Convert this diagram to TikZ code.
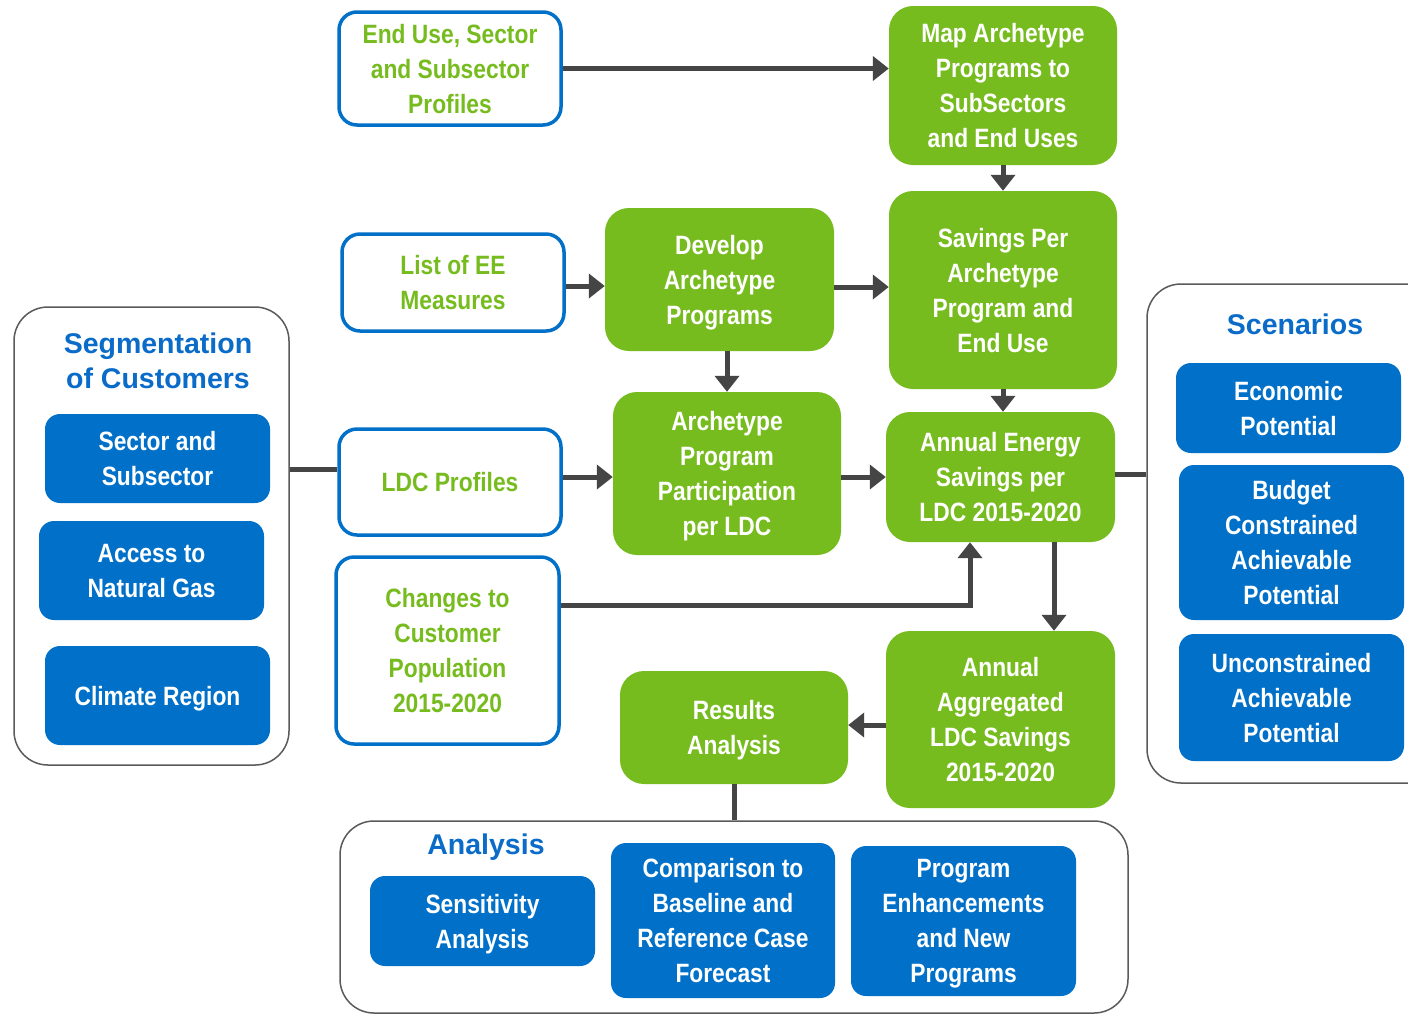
\documentclass[tikz,border=0pt]{standalone}
\usepackage{fontspec}
\setmainfont{Liberation Sans}
\newfontfamily\narrowf{Liberation Sans}[FakeStretch=0.86]
\usetikzlibrary{arrows.meta,calc}
\definecolor{grn}{RGB}{119,188,31}
\definecolor{blu}{RGB}{0,112,200}
\definecolor{hdr}{RGB}{10,107,200}
\definecolor{arr}{RGB}{69,69,69}
\definecolor{cont}{RGB}{90,90,90}
\tikzset{
  txt/.style={font=\narrowf\bfseries\fontsize{26.5}{35}\selectfont, align=center, inner sep=0pt, text depth=0pt},
  greenbox/.style={txt, fill=grn, text=white, rounded corners=24pt},
  bluebox/.style={txt, fill=blu, text=white, rounded corners=15pt},
  outbox/.style={txt, draw=blu, line width=3.5pt, fill=white, text=grn, rounded corners=18pt},
  container/.style={draw=cont, line width=1.5pt, rounded corners=34pt, inner sep=0pt},
  header/.style={font=\fontsize{28.5}{35}\selectfont\bfseries, text=hdr, align=center, inner sep=0pt},
  flow/.style={draw=arr, line width=5pt, -{Triangle[width=24pt,length=16pt]}},
  link/.style={draw=arr, line width=5pt},
  sz/.style 2 args={minimum width=#1pt, minimum height=#2pt}
}
\begin{document}
\begin{tikzpicture}[x=1pt,y=-1pt]
\useasboundingbox (0,0) rectangle (1408,1013);
\clip (0,0) rectangle (1408,1013);
\fill[white] (0,0) rectangle (1408,1013);

% containers
\node[container, sz={275}{458}] (seg) at (151.5,536) {};
\node[container, sz={300}{499}] (scen) at (1297,533.5) {};
\node[container, sz={788}{192}] (ana) at (734,917) {};

% headers
\node[header] (segh) at (158,361) {Segmentation\\of Customers};
\node[header] (scenh) at (1295,324) {Scenarios};
\node[header] (anah) at (486,847) {Analysis};

% segmentation boxes
\node[bluebox, sz={225}{89}] (sec) at (157.5,458.5) {Sector and\\Subsector};
\node[bluebox, sz={225}{99}] (gas) at (151.5,570.5) {Access to\\Natural Gas};
\node[bluebox, sz={225}{99}] (clim) at (157.5,695.5) {Climate Region};

% scenario boxes
\node[bluebox, sz={225}{90}] (econ) at (1288.5,408) {Economic\\Potential};
\node[bluebox, sz={225}{155}] (budg) at (1291.5,542.5) {Budget\\Constrained\\Achievable\\Potential};
\node[bluebox, sz={225}{127}] (unc) at (1291.5,697.5) {Unconstrained\\Achievable\\Potential};

% analysis boxes
\node[bluebox, sz={225}{90}] (sens) at (482.5,921) {Sensitivity\\Analysis};
\node[bluebox, sz={224}{155}] (comp) at (723,920.5) {Comparison to\\Baseline and\\Reference Case\\Forecast};
\node[bluebox, sz={225}{150}] (prog) at (963.5,921) {Program\\Enhancements\\and New\\Programs};

% outline boxes
\node[outbox, sz={222}{113}] (eu) at (450,68.5) {End Use, Sector\\and Subsector\\Profiles};
\node[outbox, sz={222}{97}] (ee) at (453,282.5) {List of EE\\Measures};
\node[outbox, sz={222}{106}] (ldc) at (450,482) {LDC Profiles};
\node[outbox, sz={223}{187}] (chg) at (447.5,650.5) {Changes to\\Customer\\Population\\2015-2020};

% green boxes
\node[greenbox, sz={228}{159}] (map) at (1003,85.5) {Map Archetype\\Programs to\\SubSectors\\and End Uses};
\node[greenbox, sz={228}{198}] (sav) at (1003,290) {Savings Per\\Archetype\\Program and\\End Use};
\node[greenbox, sz={229}{143}] (dev) at (719.5,279.5) {Develop\\Archetype\\Programs};
\node[greenbox, sz={228}{163}] (part) at (727,473.5) {Archetype\\Program\\Participation\\per LDC};
\node[greenbox, sz={229}{130}] (ann) at (1000.5,477) {Annual Energy\\Savings per\\LDC 2015-2020};
\node[greenbox, sz={229}{177}] (agg) at (1000.5,719.5) {Annual\\Aggregated\\LDC Savings\\2015-2020};
\node[greenbox, sz={228}{113}] (res) at (734,727.5) {Results\\Analysis};

% connectors
\draw[flow] (eu.east) -- (eu.east -| map.west);
\draw[flow] (map.south) -- (sav.north);
\draw[flow] ([yshift=-3.5pt]ee.east) -- ([yshift=-3.5pt]ee.east -| dev.west);
\draw[flow] ([yshift=-7.5pt]dev.east) -- ([yshift=-7.5pt]dev.east -| sav.west);
\draw[flow] (part.north |- dev.south) -- (part.north);
\draw[flow] ([yshift=5pt]ldc.east) -- ([yshift=5pt]ldc.east -| part.west);
\draw[flow] (part.east |- ann.west) -- (ann.west);
\draw[flow] (sav.south) -- (sav.south |- ann.north);
\draw[flow] ([yshift=45.5pt]chg.east) -| ([xshift=-30.5pt]ann.south);
\draw[flow] ([xshift=53.5pt]ann.south) -- ([xshift=53.5pt]ann.south |- agg.north);
\draw[flow] ([yshift=-5.5pt]agg.west) -- ([yshift=-5.5pt]agg.west -| res.east);
\draw[link] (res.south) -- (res.south |- ana.north);
\draw[link] ([yshift=13pt]ldc.west) -- ([yshift=13pt]ldc.west -| seg.east);
\draw[link] ([yshift=3pt]ann.east) -- ([yshift=3pt]ann.east -| scen.west);
\end{tikzpicture}
\end{document}
